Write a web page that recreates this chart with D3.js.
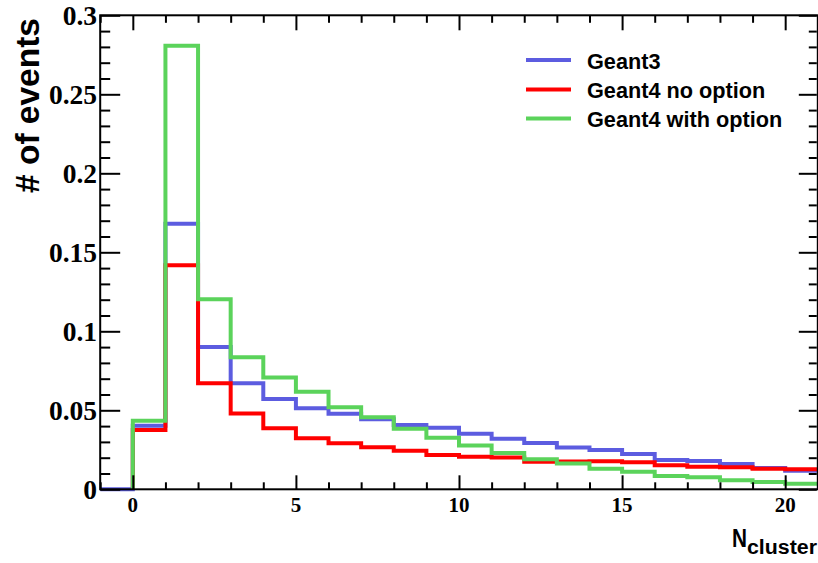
<!DOCTYPE html>
<html>
<head>
<meta charset="utf-8">
<script src="https://cdn.jsdelivr.net/npm/d3@7"></script>
<style>
  html, body { margin: 0; padding: 0; background: #fff; }
  svg { display: block; }
</style>
</head>
<body>
<svg id="chart" width="818" height="563"></svg>
<script>
// ---- data ----
const binLowEdges = [-1,0,1,2,3,4,5,6,7,8,9,10,11,12,13,14,15,16,17,18,19,20];
const geant3 = [0, 0.0403, 0.168, 0.0901, 0.0671, 0.0572, 0.0513, 0.0478, 0.0443, 0.0407, 0.039, 0.0352, 0.032, 0.0293, 0.0265, 0.0249, 0.0223, 0.0185, 0.0179, 0.016, 0.0135, 0.0118];
const geant4NoOption = [0, 0.0375, 0.1418, 0.0671, 0.0479, 0.0386, 0.0323, 0.0291, 0.0266, 0.0244, 0.0217, 0.0206, 0.0202, 0.0174, 0.0176, 0.0177, 0.0171, 0.0152, 0.0143, 0.0139, 0.013, 0.0127];
const geant4WithOption = [0, 0.0434, 0.2808, 0.1203, 0.0835, 0.0707, 0.0618, 0.0519, 0.0456, 0.0384, 0.0327, 0.0278, 0.023, 0.019, 0.0164, 0.013, 0.0111, 0.0084, 0.0076, 0.0057, 0.0046, 0.0035];
const seriesNames = ["Geant3", "Geant4 no option", "Geant4 with option"];
const xTickValues = [0, 5, 10, 15, 20];
const xTickLabels = ["0", "5", "10", "15", "20"];
const yTickValues = [0, 0.05, 0.1, 0.15, 0.2, 0.25, 0.3];
const yTickLabels = ["0", "0.05", "0.1", "0.15", "0.2", "0.25", "0.3"];
const xTitle = "N";
const xTitleSub = "cluster";
const yTitle = "# of events";

const series = [
  { name: seriesNames[0], values: geant3, color: "#5c5ce0", from: 0 },
  { name: seriesNames[1], values: geant4NoOption, color: "#ff0000", from: 1 },
  { name: seriesNames[2], values: geant4WithOption, color: "#5bd35b", from: 1 }
];

// ---- layout ----
const svg = d3.select("#chart");
const L = 100.2, R = 817.8, T = 15.3, B = 489.3;
const x = d3.scaleLinear().domain([-1, 21]).range([L, R]);
const y = d3.scaleLinear().domain([0, 0.3]).range([B, T]);

svg.append("defs").append("clipPath").attr("id", "clip")
  .append("rect").attr("x", L).attr("y", T - 3).attr("width", R - L).attr("height", B - T + 6);

// histograms
const gH = svg.append("g").attr("clip-path", "url(#clip)");
series.forEach(s => {
  const p = d3.path();
  let started = false;
  for (let i = s.from; i < binLowEdges.length; i++) {
    const x0 = x(binLowEdges[i]), x1 = x(binLowEdges[i] + 1), yy = y(s.values[i]);
    if (!started) { p.moveTo(x0, y(0)); started = true; }
    p.lineTo(x0, yy);
    p.lineTo(x1, yy);
  }
  gH.append("path").attr("d", p.toString())
    .attr("fill", "none").attr("stroke", s.color).attr("stroke-width", 4)
    .attr("stroke-linejoin", "miter");
});

// frame
svg.append("rect").attr("x", L).attr("y", T).attr("width", R - L).attr("height", B - T)
  .attr("fill", "none").attr("stroke", "#000").attr("stroke-width", 2);

// ticks
const xMinor = d3.range(-1, 22, 1).filter(v => xTickValues.indexOf(v) < 0);
const yMinor = d3.range(0, 31, 1).map(v => v / 100).filter(v => !yTickValues.some(t => Math.abs(t - v) < 1e-9));

function tickAxis(axisFn, scale, values, size, transform) {
  const g = svg.append("g").attr("transform", transform)
    .call(axisFn(scale).tickValues(values).tickSize(size).tickFormat(""));
  g.select(".domain").remove();
  g.selectAll(".tick line").attr("stroke", "#000").attr("stroke-width", 2);
  return g;
}
tickAxis(d3.axisBottom, x, xTickValues, -14, `translate(0,${B})`);
tickAxis(d3.axisBottom, x, xMinor, -7, `translate(0,${B})`);
tickAxis(d3.axisTop, x, xTickValues, -15, `translate(0,${T})`);
tickAxis(d3.axisTop, x, xMinor, -7.5, `translate(0,${T})`);
tickAxis(d3.axisLeft, y, yTickValues, -20, `translate(${L},0)`);
tickAxis(d3.axisLeft, y, yMinor, -10, `translate(${L},0)`);
tickAxis(d3.axisRight, y, yTickValues, -18, `translate(${R - 1},0)`);
tickAxis(d3.axisRight, y, yMinor, -8, `translate(${R - 1},0)`);

// tick labels
const serif = "'Liberation Serif','Times New Roman',Times,serif";
const sans = "'Liberation Sans',Arial,Helvetica,sans-serif";
svg.append("g").selectAll("text").data(xTickValues).join("text")
  .attr("x", d => x(d)).attr("y", 511.5)
  .attr("text-anchor", "middle")
  .attr("font-family", serif).attr("font-weight", "bold").attr("font-size", 21)
  .text((d, i) => xTickLabels[i]);
svg.append("g").selectAll("text").data(yTickValues).join("text")
  .attr("x", 97).attr("y", d => y(d) + 9.3)
  .attr("text-anchor", "end")
  .attr("font-family", serif).attr("font-weight", "bold").attr("font-size", 27.5)
  .text((d, i) => yTickLabels[i]);

// axis titles
svg.append("text").attr("x", 732).attr("y", 547)
  .attr("font-family", sans).attr("font-weight", "bold").attr("font-size", 25)
  .attr("textLength", 15).attr("lengthAdjust", "spacingAndGlyphs")
  .text(xTitle);
svg.append("text").attr("x", 747).attr("y", 554)
  .attr("font-family", sans).attr("font-weight", "bold").attr("font-size", 20)
  .attr("textLength", 70).attr("lengthAdjust", "spacingAndGlyphs")
  .text(xTitleSub);
svg.append("text")
  .attr("transform", "translate(38.5,18) rotate(-90)")
  .attr("text-anchor", "end")
  .attr("font-family", sans).attr("font-weight", "bold").attr("font-size", 33.5)
  .text(yTitle);

// legend
const legY = [60, 89.5, 118.5];
const leg = svg.append("g");
series.forEach((s, i) => {
  leg.append("line").attr("x1", 526).attr("x2", 571).attr("y1", legY[i]).attr("y2", legY[i])
    .attr("stroke", s.color).attr("stroke-width", 4);
  leg.append("text").attr("x", 587).attr("y", legY[i] + 8.5)
    .attr("font-family", sans).attr("font-weight", "bold").attr("font-size", 21.7)
    .text(s.name);
});
</script>
</body>
</html>
